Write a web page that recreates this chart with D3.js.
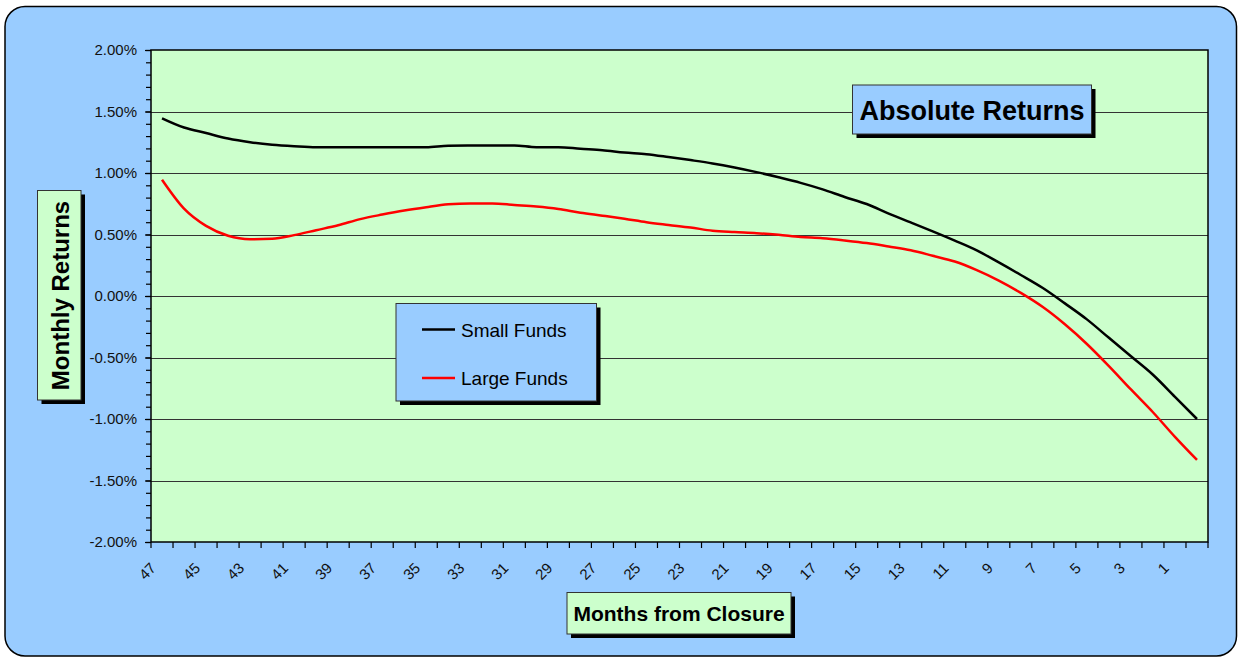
<!DOCTYPE html>
<html>
<head>
<meta charset="utf-8">
<script src="https://cdn.jsdelivr.net/npm/d3@7"></script>
<style>
  body { margin: 0; background: #fff; }
  svg text { font-family: "Liberation Sans", Arial, sans-serif; }
</style>
</head>
<body>
<div id="chart"></div>
<script>
// months from closure, left to right
var months = [47, 46, 45, 44, 43, 42, 41, 40, 39, 38, 37, 36, 35, 34, 33, 32,
  31, 30, 29, 28, 27, 26, 25, 24, 23, 22, 21, 20, 19, 18, 17, 16,
  15, 14, 13, 12, 11, 10, 9, 8, 7, 6, 5, 4, 3, 2, 1, 0];

// monthly returns, in percent
var smallFunds = [1.445, 1.37, 1.325, 1.28, 1.25, 1.23, 1.218, 1.21, 1.21, 1.21, 1.21, 1.21, 1.21, 1.222, 1.223, 1.224,
  1.224, 1.21, 1.21, 1.197, 1.185, 1.167, 1.153, 1.13, 1.105, 1.078, 1.045, 1.007, 0.965, 0.92, 0.867, 0.805,
  0.748, 0.67, 0.598, 0.525, 0.45, 0.371, 0.273, 0.171, 0.065, -0.06, -0.19, -0.34, -0.49, -0.64, -0.82, -1.0];
var largeFunds = [0.945, 0.71, 0.57, 0.49, 0.462, 0.465, 0.495, 0.535, 0.575, 0.625, 0.662, 0.695, 0.722, 0.745, 0.753, 0.753,
  0.74, 0.727, 0.707, 0.677, 0.653, 0.628, 0.6, 0.578, 0.557, 0.531, 0.52, 0.511, 0.497, 0.48, 0.469, 0.451,
  0.43, 0.402, 0.372, 0.327, 0.28, 0.21, 0.125, 0.025, -0.09, -0.23, -0.39, -0.57, -0.76, -0.945, -1.145, -1.333];

var yMajor = [-2, -1.5, -1, -0.5, 0, 0.5, 1, 1.5, 2];
var xLabels = [47, 45, 43, 41, 39, 37, 35, 33, 31, 29, 27, 25, 23, 21, 19, 17, 15, 13, 11, 9, 7, 5, 3, 1];
var seriesNames = ["Small Funds", "Large Funds"];
var seriesColors = ["#000000", "#ff0000"];

var W = 1241, H = 658;
var plot = {left: 151, right: 1208, top: 50, bottom: 542};

var svg = d3.select("#chart").append("svg")
  .attr("width", W).attr("height", H);

// outer chart area
svg.append("rect")
  .attr("x", 5).attr("y", 6.5).attr("width", 1231.5).attr("height", 649.5)
  .attr("rx", 20).attr("ry", 20)
  .attr("fill", "#99ccff").attr("stroke", "#000").attr("stroke-width", 1.5);

var x = d3.scaleBand().domain(months).range([plot.left, plot.right]).padding(0);
var y = d3.scaleLinear().domain([-2, 2]).range([plot.bottom, plot.top]);
var cx = function(m){ return x(m) + x.bandwidth()/2; };

// plot area
svg.append("rect")
  .attr("x", plot.left).attr("y", plot.top)
  .attr("width", plot.right - plot.left).attr("height", plot.bottom - plot.top)
  .attr("fill", "#ccffcc");

// gridlines
svg.append("g").selectAll("line")
  .data(yMajor.slice(1, -1))
  .enter().append("line")
  .attr("x1", plot.left).attr("x2", plot.right)
  .attr("y1", function(d){ return Math.round(y(d)) + 0.5; })
  .attr("y2", function(d){ return Math.round(y(d)) + 0.5; })
  .attr("stroke", "#333").attr("stroke-width", 1);

svg.append("rect")
  .attr("x", plot.left).attr("y", plot.top)
  .attr("width", plot.right - plot.left).attr("height", plot.bottom - plot.top)
  .attr("fill", "none").attr("stroke", "#000").attr("stroke-width", 1.5);

// y axis: minor ticks then major ticks with labels
var yMinor = svg.append("g")
  .attr("transform", "translate(" + plot.left + ",0)")
  .call(d3.axisLeft(y).ticks(40).tickSize(5).tickFormat(""));
yMinor.select(".domain").remove();

var yAxis = svg.append("g")
  .attr("transform", "translate(" + plot.left + ",0)")
  .call(d3.axisLeft(y).tickValues(yMajor).tickSize(6).tickPadding(8)
    .tickFormat(function(d){ return d.toFixed(2) + "%"; }));
yAxis.select(".domain").remove();
yAxis.selectAll("text").attr("font-size", 15).attr("fill", "#111")
  .attr("font-family", "Liberation Sans, Arial, sans-serif");
svg.selectAll(".tick line").attr("stroke", "#000").attr("stroke-width", 1.2);

// x axis ticks at category edges
var edges = months.map(function(m){ return x(m); }).concat([plot.right]);
svg.append("g").selectAll("line")
  .data(edges)
  .enter().append("line")
  .attr("x1", function(d){ return d; }).attr("x2", function(d){ return d; })
  .attr("y1", plot.bottom).attr("y2", plot.bottom + 6)
  .attr("stroke", "#000").attr("stroke-width", 1.2);

svg.append("g").selectAll("text")
  .data(xLabels)
  .enter().append("text")
  .attr("transform", function(d){
    return "translate(" + (cx(d) - 5) + "," + (plot.bottom + 27) + ") rotate(-45)";
  })
  .attr("text-anchor", "end")
  .attr("font-size", 15).attr("fill", "#111")
  .text(function(d){ return d; });

// lines
var line = d3.line()
  .x(function(d, i){ return cx(months[i]); })
  .y(function(d){ return y(d); })
  .curve(d3.curveMonotoneX);

[smallFunds, largeFunds].forEach(function(s, k){
  svg.append("path")
    .datum(s)
    .attr("d", line)
    .attr("fill", "none")
    .attr("stroke", seriesColors[k])
    .attr("stroke-width", 2.5)
    .attr("stroke-linejoin", "round");
});

// boxes with drop shadow
var box = function(bx, by, bw, bh, fill){
  svg.append("rect").attr("x", bx + 4).attr("y", by + 4)
    .attr("width", bw).attr("height", bh).attr("fill", "#000");
  svg.append("rect").attr("x", bx).attr("y", by)
    .attr("width", bw).attr("height", bh)
    .attr("fill", fill).attr("stroke", "#333").attr("stroke-width", 1);
};

// title
box(852.5, 85, 239, 49, "#99ccff");
svg.append("text")
  .attr("x", 972).attr("y", 120)
  .attr("text-anchor", "middle")
  .attr("font-size", 27).attr("font-weight", "bold")
  .text("Absolute Returns");

// x title
box(567, 592.5, 224, 41.5, "#ccffcc");
svg.append("text")
  .attr("x", 679).attr("y", 621)
  .attr("text-anchor", "middle")
  .attr("font-size", 21).attr("font-weight", "bold")
  .text("Months from Closure");

// y title
box(37.5, 190.5, 43.5, 209.5, "#ccffcc");
svg.append("text")
  .attr("transform", "translate(68.5,295.5) rotate(-90)")
  .attr("text-anchor", "middle")
  .attr("font-size", 24).attr("font-weight", "bold")
  .text("Monthly Returns");

// legend
box(396, 303.5, 200.5, 97.5, "#99ccff");
var leg = svg.append("g").selectAll("g")
  .data(seriesNames)
  .enter().append("g")
  .attr("transform", function(d, i){ return "translate(422," + (329.5 + i*48.5) + ")"; });
leg.append("line")
  .attr("x1", 0).attr("x2", 33).attr("y1", 0).attr("y2", 0)
  .attr("stroke", function(d, i){ return seriesColors[i]; })
  .attr("stroke-width", 2.5);
leg.append("text")
  .attr("x", 39).attr("y", 7)
  .attr("font-size", 19)
  .text(function(d){ return d; });
</script>
</body>
</html>
